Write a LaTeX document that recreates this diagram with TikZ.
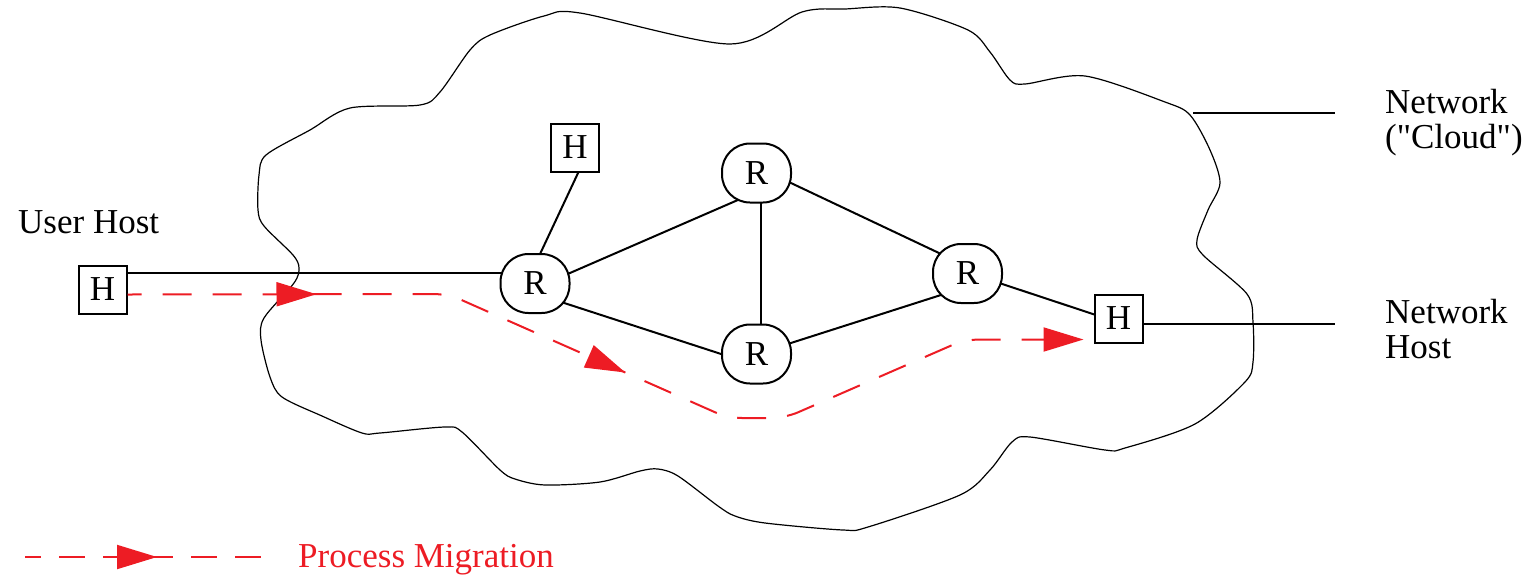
\documentclass[tikz,border=0pt]{standalone}
\usepackage{fontspec}
\setmainfont{Liberation Serif}[Ligatures=TeXOff]
\usetikzlibrary{arrows.meta,calc,decorations.markings}
\definecolor{migred}{RGB}{237,28,36}
\pgfdeclarelayer{bg}
\pgfsetlayers{bg,main}
\tikzset{migtip/.tip={Triangle[length=40pt,width=24pt]}}
\begin{document}
\begin{tikzpicture}[x=1pt,y=-1pt,
  txt/.style={font=\fontsize{35}{35}\selectfont},
  lbl/.style={txt, inner sep=0pt},
  hostbox/.style={txt, draw, line width=2pt, fill=white, minimum size=48pt, inner sep=0pt},
  router/.style={txt, draw, line width=2pt, fill=white, minimum width=69pt,
    minimum height=59pt, rounded corners=28pt, inner sep=0pt},
  link/.style={line width=2pt},
  cloudline/.style={line width=1.2pt},
  migration/.style={migred, line width=2pt}
]
\useasboundingbox (0,0) rectangle (1526,574);

% network cloud outline
\draw[cloudline] plot[smooth cycle, tension=0.5] coordinates {
  (258,210) (259,175) (266,155) (310,130) (350,108) (420,105) (440,92)
  (470,50) (490,35) (544,16) (580,13) (730,44) (802,12) (845,9) (900,8)
  (968,30) (990,52) (1010,80) (1025,84) (1085,76) (1165,102) (1190,115)
  (1210,150) (1220,183) (1208,210) (1197,240) (1203,255) (1247,294)
  (1253,322) (1253,362) (1245,382) (1195,424) (1125,448) (1105,450)
  (1030,437) (1012,442) (990,470) (960,495) (868,527) (843,530)
  (765,523) (735,516) (718,506) (678,476) (658,469) (640,471) (600,482)
  (545,485) (515,479) (500,470) (462,432) (445,427) (380,433) (362,433)
  (322,416) (282,397) (270,377) (261,340) (264,318) (294,283) (299,268)
  (293,255) (264,226)};

% hosts and routers
\node[hostbox] (uh) at (102.5,289.5) {H};
\node[hostbox] (th) at (575,147.5) {H};
\node[router]  (rl) at (535,283.5) {R};
\node[router]  (rt) at (756.5,173) {R};
\node[router]  (rb) at (756.5,354) {R};
\node[router]  (rr) at (967.5,273.5) {R};
\node[hostbox] (hr) at (1118.5,318.5) {H};

\coordinate (cloudpt) at (1193,113);
\coordinate (cloudend) at (1335,113);
\coordinate (hostend) at (1335,323.5);

% links, kept behind the nodes
\begin{pgfonlayer}{bg}
  \draw[link] ($(uh.east)+(0,-16.5)$) -- ($(rl.center)+(0,-10.5)$);
  \draw[link] ($(th.center)+(15,0)$) -- ($(rl.center)+(-8.8,0)$);
  \draw[link] ($(rl.center)+(0,4.7)$) -- ($(rt.center)+(0,18.9)$);
  \draw[link] ($(rl.center)+(0,10)$) -- ($(rb.center)+(0,11.5)$);
  \draw[link] ($(rt.center)+(4.5,0)$) -- ($(rb.center)+(4.5,0)$);
  \draw[link] ($(rt.center)+(0,-6.3)$) -- ($(rr.center)+(0,-7)$);
  \draw[link] (rb.center) -- ($(rr.center)+(0,13)$);
  \draw[link] ($(rr.center)+(0,-1)$) -- ($(hr.center)+(0,4)$);
\end{pgfonlayer}
\draw[link] ($(hr.east)+(0,5)$) -- (hostend);
\draw[link] (cloudpt) -- (cloudend);

% labels
\node[lbl, anchor=base west] (userlbl) at (18,233) {User Host};
\node[lbl, anchor=base west] (cloudlbl) at (1385,113)
  {\begin{tabular}[t]{@{}l@{}}Network\\("Cloud")\end{tabular}};
\node[lbl, anchor=base west] (hostlbl) at (1385,323)
  {\begin{tabular}[t]{@{}l@{}}Network\\Host\end{tabular}};

% process migration path
\draw[migration, dash pattern=on 29pt off 21pt, dash phase=15pt,
      rounded corners=14pt, -{migtip},
      postaction={decorate, decoration={markings,
        mark=at position 189pt with {\arrow{migtip}},
        mark=at position 514pt with {\arrow{migtip}}}}]
  ($(uh.east)+(0,5)$) -- (448,294) -- (728,418) -- (785,418) -- (965,339.5)
  -- ($(hr.west)+(-10,21)$);

% legend
\coordinate (legA) at (25,557);
\coordinate (legB) at (262,557);
\draw[migration, dash pattern=on 26pt off 18pt, dash phase=10pt,
      postaction={decorate, decoration={markings,
        mark=at position 132pt with {\arrow{migtip}}}}]
  (legA) -- (legB);
\node[lbl, text=migred, anchor=base west] (miglbl) at (298,567) {Process Migration};
\end{tikzpicture}
\end{document}
